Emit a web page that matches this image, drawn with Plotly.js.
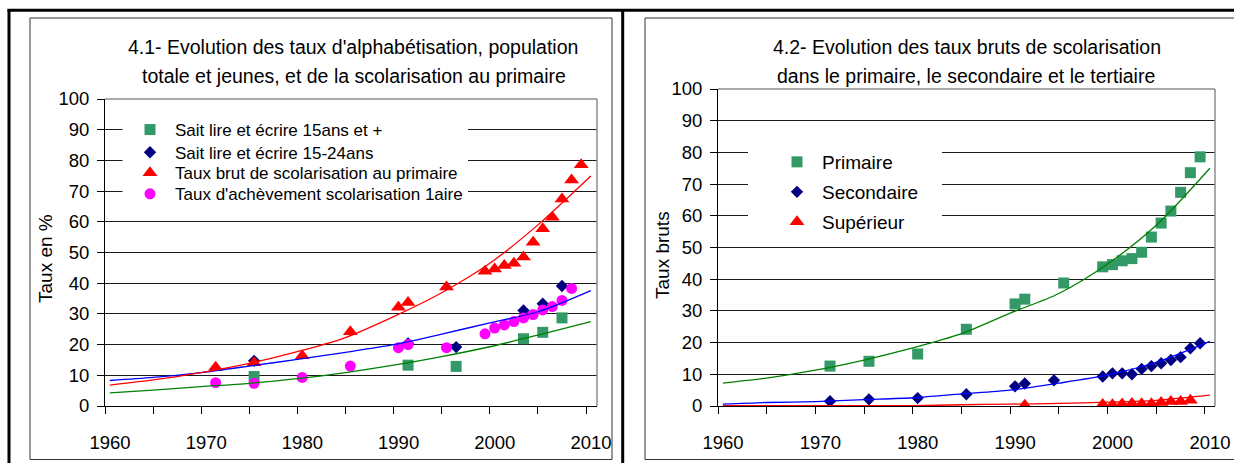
<!DOCTYPE html>
<html>
<head>
<meta charset="utf-8">
<script src="https://cdn.plot.ly/plotly-3.0.1.min.js"></script>
<style>
html,body{margin:0;padding:0;background:#fff;}
#chart{width:1234px;height:463px;}
</style>
</head>
<body>
<div id="chart"></div>
<script>
// ---------- Data ----------
// Left chart (4.1)
var yearsLitAdult = [1975.5, 1991.5, 1996.5, 2003.5, 2005.5, 2007.5];
var litAdult      = [9.6, 13.3, 12.9, 21.9, 24.0, 28.7];
var yearsLitYouth = [1975.5, 1991.5, 1996.5, 2003.5, 2005.5, 2007.5];
var litYouth      = [14.7, 20.4, 19.2, 31.1, 33.3, 39.1];
var yearsPrim = [1971.5, 1975.5, 1980.5, 1985.5, 1990.5, 1991.5, 1995.5, 1999.5, 2000.5, 2001.5, 2002.5, 2003.5, 2004.5, 2005.5, 2006.5, 2007.5, 2008.5, 2009.5];
var tbsPrim   = [12.6, 14.1, 16.4, 24.2, 32.2, 33.7, 38.8, 43.9, 44.6, 45.8, 46.5, 48.5, 53.3, 57.7, 61.5, 67.4, 73.6, 78.6];
var yearsAch  = [1971.5, 1975.5, 1980.5, 1985.5, 1990.5, 1991.5, 1995.5, 1999.5, 2000.5, 2001.5, 2002.5, 2003.5, 2004.5, 2005.5, 2006.5, 2007.5, 2008.5];
var achev     = [7.6, 7.4, 9.3, 13.0, 19.0, 20.0, 19.0, 23.5, 25.4, 26.4, 27.5, 28.7, 29.8, 31.3, 32.4, 34.4, 38.3];

// Trend lines
var trendYears      = [1960.5, 1965, 1970, 1975, 1980, 1985, 1990, 1995, 2000, 2005, 2010.5];
var trendPrimLeft   = [6.8, 8.5, 10.9, 13.9, 17.7, 22.3, 29.1, 36.9, 46.5, 59.0, 74.9];
var trendYouth      = [8.3, 9.3, 10.9, 13.0, 15.2, 17.5, 20.0, 23.4, 27.1, 30.7, 37.6];
var trendAdult      = [4.3, 5.2, 6.3, 7.4, 8.9, 10.9, 13.3, 16.1, 19.3, 23.1, 27.5];

// Right chart (4.2)
var yearsSec = [1971.5, 1975.5, 1980.5, 1985.5, 1990.5, 1991.5, 1994.5, 1999.5, 2000.5, 2001.5, 2002.5, 2003.5, 2004.5, 2005.5, 2006.5, 2007.5, 2008.5, 2009.5];
var tbsSec   = [1.5, 2.1, 2.5, 3.7, 6.2, 7.1, 8.1, 9.3, 10.3, 10.3, 10.0, 11.7, 12.6, 13.5, 14.5, 15.4, 18.2, 19.8];
var yearsSup = [1991.5, 1999.5, 2000.5, 2001.5, 2002.5, 2003.5, 2004.5, 2005.5, 2006.5, 2007.5, 2008.5];
var tbsSup   = [0.2, 0.5, 0.4, 0.6, 0.8, 0.7, 0.7, 1.1, 1.4, 1.4, 1.8];
var trendPrimRight = [7.2, 8.8, 11.3, 14.5, 18.3, 22.8, 29.3, 35.5, 44.8, 57.0, 75.0];
var trendSec       = [0.6, 1.1, 1.4, 2.0, 2.6, 3.8, 5.0, 7.2, 9.8, 13.8, 20.4];
var trendSup       = [0.1, 0.1, 0.1, 0.1, 0.1, 0.4, 0.6, 0.8, 1.2, 1.8, 3.4];

// Texts
var title1a = "4.1- Evolution des taux d'alphabétisation, population";
var title1b = "totale et jeunes, et de la scolarisation au primaire";
var title2a = "4.2- Evolution des taux bruts de scolarisation";
var title2b = "dans le primaire, le secondaire et le tertiaire";
var yTitle1 = "Taux en %";
var yTitle2 = "Taux bruts";
var names1 = ["Sait lire et écrire 15ans et +", "Sait lire et écrire 15-24ans", "Taux brut de scolarisation au primaire", "Taux d'achèvement scolarisation 1aire"];
var names2 = ["Primaire", "Secondaire", "Supérieur"];
var xTickVals = [1960, 1965, 1970, 1975, 1980, 1985, 1990, 1995, 2000, 2005, 2010];
var xTickText = ["1960", "", "1970", "", "1980", "", "1990", "", "2000", "", "2010"];

// ---------- Layout helpers ----------
var W = 1234, H = 463;
function px(x){ return x / W; }
function py(y){ return 1 - y / H; }
var FONT = "Liberation Sans, Arial, sans-serif";

var cGreen = "#339966", cNavy = "#000080", cRed = "#FF0000", cMag = "#FF00FF";
var mSq = {symbol: "square", size: 11, color: cGreen};
var mDi = {symbol: "diamond", size: 9.5, color: cNavy};
var mTr = {symbol: "triangle-up", size: 13, color: cRed};
var mCi = {symbol: "circle", size: 11, color: cMag};

function pts(x, y, name, marker, xa, ya, leg){
  return {x: x, y: y, name: name, mode: "markers", type: "scatter", xaxis: xa, yaxis: ya, legend: leg, marker: marker};
}
function trend(x, y, color, xa, ya){
  return {x: x, y: y, mode: "lines", type: "scatter", xaxis: xa, yaxis: ya, showlegend: false,
    line: {color: color, width: 1.3, shape: "spline", smoothing: 0.8}};
}

var traces = [
  pts(yearsLitAdult, litAdult, names1[0], mSq, "x", "y", "legend"),
  pts(yearsLitYouth, litYouth, names1[1], mDi, "x", "y", "legend2"),
  pts(yearsPrim, tbsPrim, names1[2], mTr, "x", "y", "legend3"),
  pts(yearsAch, achev, names1[3], mCi, "x", "y", "legend4"),
  trend(trendYears, trendAdult, "#008000", "x", "y"),
  trend(trendYears, trendYouth, "#0000FF", "x", "y"),
  trend(trendYears, trendPrimLeft, "#FF0000", "x", "y"),

  pts(yearsPrim, tbsPrim, names2[0], mSq, "x2", "y2", "legend5"),
  pts(yearsSec, tbsSec, names2[1], mDi, "x2", "y2", "legend6"),
  pts(yearsSup, tbsSup, names2[2], mTr, "x2", "y2", "legend7"),
  trend(trendYears, trendPrimRight, "#008000", "x2", "y2"),
  trend(trendYears, trendSec, "#0000FF", "x2", "y2"),
  trend(trendYears, trendSup, "#FF0000", "x2", "y2")
];

function xAxis(domain, range, anchor){
  return {domain: domain, range: range, anchor: anchor, tickvals: xTickVals, ticktext: xTickText,
    ticks: "outside", ticklen: 7, tickcolor: "#000", tickwidth: 1, showline: true, linecolor: "#000", linewidth: 1,
    showgrid: false, zeroline: false, ticklabelstandoff: 13, ticklabelshift: 5, fixedrange: true,
    tickfont: {family: FONT, size: 18.5, color: "#000"}};
}
function yAxis(domain, anchor){
  return {domain: domain, range: [0, 100], anchor: anchor, dtick: 10, tick0: 0,
    ticks: "outside", ticklen: 7, tickcolor: "#000", tickwidth: 1, showline: true, linecolor: "#000", linewidth: 1,
    showgrid: true, gridcolor: "#1a1a1a", gridwidth: 1, zeroline: false, ticklabelstandoff: 4, fixedrange: true,
    tickfont: {family: FONT, size: 18.5, color: "#000"}};
}
function leg(x, y, size){
  return {x: px(x), y: py(y), xanchor: "left", yanchor: "middle", bgcolor: "rgba(0,0,0,0)", borderwidth: 0,
    itemwidth: 40, font: {family: FONT, size: size, color: "#000"}, itemclick: false};
}

var shapes = [
  // white legend boxes hiding gridlines
  {type: "rect", xref: "paper", yref: "paper", x0: px(122.5), x1: px(468), y0: py(115), y1: py(206), fillcolor: "#fff", line: {width: 0}, layer: "above"},
  {type: "rect", xref: "paper", yref: "paper", x0: px(748), x1: px(942), y0: py(140), y1: py(233), fillcolor: "#fff", line: {width: 0}, layer: "above"},
  // grey plot-area border (top & right)
  {type: "line", xref: "x domain", yref: "y domain", x0: 0, x1: 1, y0: 1, y1: 1, line: {color: "#8c8c8c", width: 1.5}, layer: "above"},
  {type: "line", xref: "x domain", yref: "y domain", x0: 1, x1: 1, y0: 0, y1: 1, line: {color: "#8c8c8c", width: 1.5}, layer: "above"},
  {type: "line", xref: "x2 domain", yref: "y2 domain", x0: 0, x1: 1, y0: 1, y1: 1, line: {color: "#8c8c8c", width: 1.5}, layer: "above"},
  {type: "line", xref: "x2 domain", yref: "y2 domain", x0: 1, x1: 1, y0: 0, y1: 1, line: {color: "#8c8c8c", width: 1.5}, layer: "above"},
  // inner chart frames
  {type: "rect", xref: "paper", yref: "paper", x0: px(30), x1: px(612), y0: py(459.5), y1: py(18), line: {color: "#333", width: 1}, layer: "below"},
  {type: "rect", xref: "paper", yref: "paper", x0: px(645), x1: px(1240), y0: py(459.5), y1: py(18), line: {color: "#333", width: 1}, layer: "below"},
  // thick outer table lines
  {type: "line", xref: "paper", yref: "paper", x0: px(7.5), x1: px(1240), y0: py(10.3), y1: py(10.3), line: {color: "#000", width: 3}},
  {type: "line", xref: "paper", yref: "paper", x0: px(9), x1: px(9), y0: py(9), y1: py(470), line: {color: "#000", width: 3}},
  {type: "line", xref: "paper", yref: "paper", x0: px(622.7), x1: px(622.7), y0: py(9), y1: py(470), line: {color: "#000", width: 3}}
];

function ann(text, x, y, size, angle){
  return {text: text, xref: "paper", yref: "paper", x: px(x), y: py(y), xanchor: "center", yanchor: "middle",
    showarrow: false, textangle: angle || 0, font: {family: FONT, size: size, color: "#000"}};
}

var layout = {
  width: W, height: H, margin: {l: 0, r: 0, t: 0, b: 0},
  paper_bgcolor: "#fff", plot_bgcolor: "#fff",
  showlegend: true,
  xaxis: xAxis([px(105), px(597)], [1960, 2011.14], "y"),
  yaxis: yAxis([1 - 406 / H, 1 - 99 / H], "x"),
  xaxis2: xAxis([px(718), px(1215)], [1960, 2011.03], "y2"),
  yaxis2: yAxis([1 - 406 / H, 1 - 89 / H], "x2"),
  legend: leg(125, 130, 17),
  legend2: leg(125, 152.7, 17),
  legend3: leg(125, 173.3, 17),
  legend4: leg(125, 194.3, 17),
  legend5: leg(772, 162, 19),
  legend6: leg(772, 192, 19),
  legend7: leg(772, 222, 19),
  shapes: shapes,
  annotations: [
    ann(title1a, 353, 47, 19.5), ann(title1b, 354, 76, 19.5),
    ann(title2a, 967, 47, 19.5), ann(title2b, 966, 76, 19.5),
    ann(yTitle1, 45, 258, 19, -90), ann(yTitle2, 662, 255, 19, -90)
  ]
};

Plotly.newPlot("chart", traces, layout, {displayModeBar: false, staticPlot: true});
</script>
</body>
</html>
